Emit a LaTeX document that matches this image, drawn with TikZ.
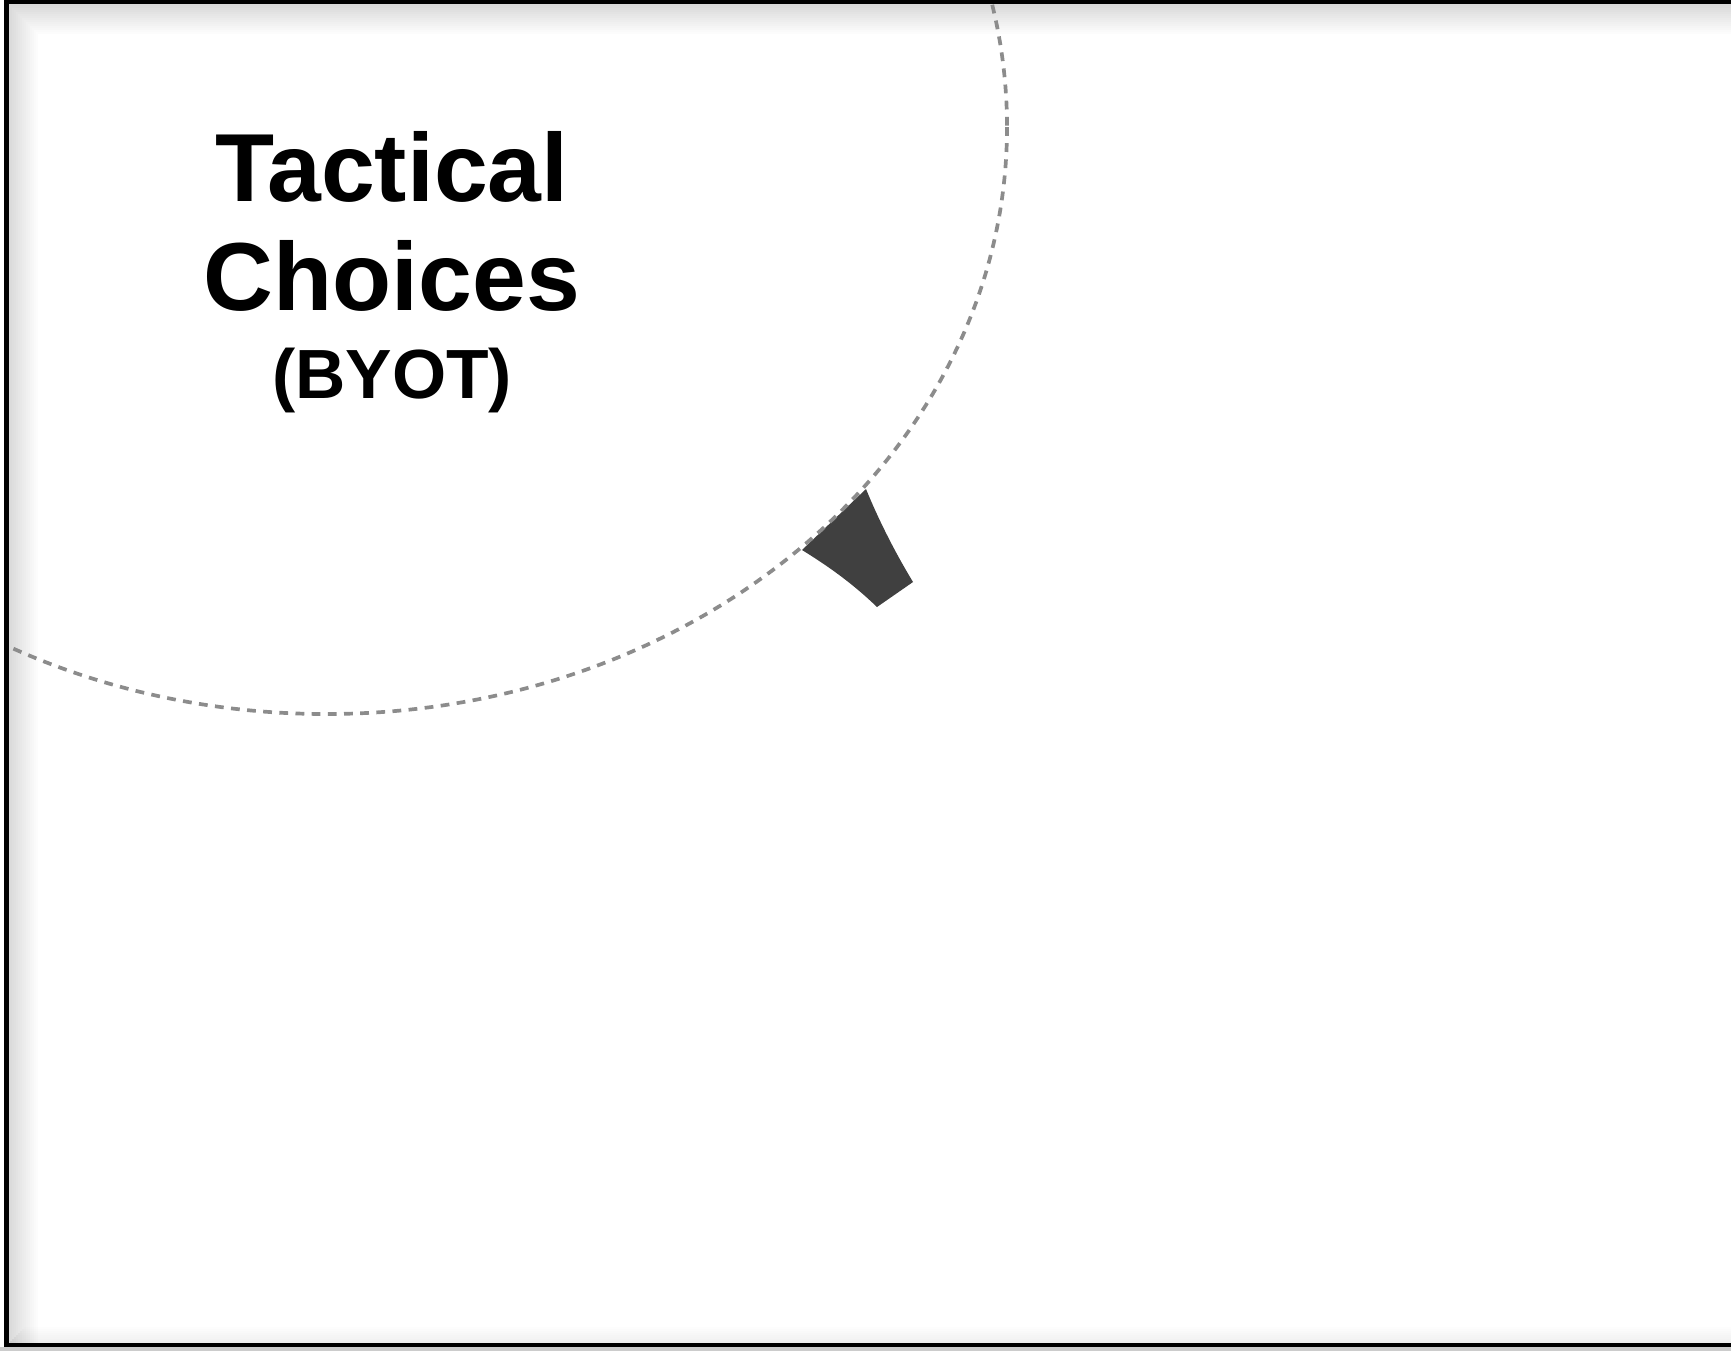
\documentclass[tikz,border=0pt]{standalone}
\usepackage{fontspec}
\setmainfont{Liberation Sans}
\definecolor{gristrait}{HTML}{8C8C8C}
\definecolor{grisfonce}{HTML}{404040}

\begin{document}
\begin{tikzpicture}[x=0.01cm, y=-0.01cm]
  % Styles
  \tikzset{
    titre/.style={font=\fontsize{27.5}{31}\selectfont\bfseries, anchor=base, inner sep=0pt},
    sous/.style={font=\fontsize{19.8}{22}\selectfont\bfseries, anchor=base, inner sep=0pt},
    pointille/.style={gristrait, line width=1.05pt, dash pattern=on 2.5pt off 2.1pt},
    cadre/.style={black, line width=1.2pt},
  }

  % Page
  \useasboundingbox (0,0) rectangle (1731,1351);
  \fill[white] (0,0) rectangle (1731,1351);
  \fill[gray!40] (0,1347) rectangle (1731,1351);

  % Ombre intérieure
  \foreach \k [evaluate=\k as \op using 0.15*(1-\k/15)] in {0,...,14} {
    \fill[black, opacity=\op] (8+2*\k,4+2*\k) rectangle (1731,6+2*\k);
    \fill[black, opacity=\op] (8+2*\k,6+2*\k) rectangle (10+2*\k,1343);
  }
  \foreach \k [evaluate=\k as \op using 0.06*(1-\k/8)] in {0,...,7}
    \fill[black, opacity=\op] (10+2*\k,1341-2*\k) rectangle (1731,1343-2*\k);

  % Cadre
  \draw[cadre] (6.5,2) rectangle (1745,1345.3);

  % Pointe de flèche
  \coordinate (pg) at (802,550);
  \coordinate (ph) at (866,489);
  \coordinate (pd) at (913,582);
  \coordinate (pb) at (877,607);
  \fill[grisfonce] (pg) -- (ph) .. controls (879,521) and (896,554) .. (pd)
    -- (pb) .. controls (852,583) and (828,566) .. (pg) -- cycle;

  % Ellipse en pointillés
  \coordinate (centre) at (326,127);
  \begin{scope}
    \clip (8,4) rectangle (1731,1343);
    \draw[pointille] (centre) ellipse [x radius=681, y radius=587];
  \end{scope}

  % Titre
  \node[titre] (tac) at (392,201) {Tactical};
  \node[titre] (cho) at (392,310) {Choices};
  \node[sous] (byot) at (392,398.5) {(BYOT)};

\end{tikzpicture}
\end{document}
